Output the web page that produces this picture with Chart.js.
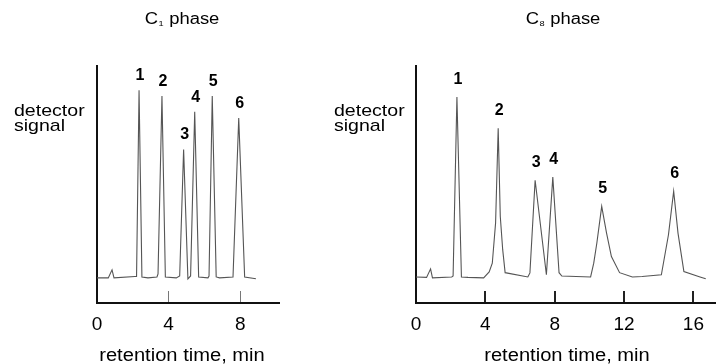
<!DOCTYPE html>
<html>
<head>
<meta charset="utf-8">
<script src="https://cdn.jsdelivr.net/npm/chart.js@4.4.1/dist/chart.umd.min.js"></script>
<style>
  body { margin: 0; background: #fff; }
  #wrap { position: relative; width: 726px; height: 364px; }
  canvas { position: absolute; top: 0; }
</style>
</head>
<body>
<div id="wrap">
  <canvas id="c1Chart" width="320" height="364" style="left:0"></canvas>
  <canvas id="c8Chart" width="406" height="364" style="left:320px"></canvas>
</div>
<script>
// chromatogram traces (time in min, signal in arbitrary units 0-100)
const c1Time   = [0, 0.63, 0.84, 0.95, 2.12, 2.21, 2.35, 2.51, 2.85, 3.35, 3.41, 3.63, 3.82, 4.43, 4.62, 4.84, 5.08, 5.23, 5.46, 5.68, 6.2, 6.26, 6.44, 6.66, 6.85, 7.6, 7.92, 8.25, 8.88];
const c1Signal = [10.6, 10.6, 14.0, 10.6, 11.2, 11.2, 89.8, 11.0, 10.6, 11.0, 12.3, 87.3, 11.0, 10.6, 11.4, 64.8, 10.2, 11.4, 80.7, 11.0, 10.6, 11.4, 87.3, 11.0, 10.6, 11.0, 78.0, 11.0, 10.2];

const c8Time   = [0, 0.61, 0.84, 0.95, 2.06, 2.14, 2.36, 2.62, 3.0, 3.9, 4.22, 4.4, 4.59, 4.74, 4.86, 5.0, 5.14, 6.45, 6.57, 6.87, 7.52, 7.89, 8.25, 8.41, 10.07, 10.25, 10.43, 10.71, 10.99, 11.27, 11.74, 12.48, 13.04, 14.15, 14.56, 14.86, 15.11, 15.45, 16.38, 16.71];
const c8Signal = [11.0, 10.8, 14.4, 10.6, 11.0, 11.4, 86.9, 11.0, 10.8, 10.6, 13.1, 16.8, 33.8, 73.7, 36.6, 22.5, 12.8, 11.0, 12.7, 51.8, 11.9, 53.1, 12.8, 11.4, 11.0, 16.8, 25.3, 40.8, 29.5, 19.6, 12.8, 11.0, 11.2, 11.9, 28.8, 47.2, 29.5, 13.3, 11.0, 10.2];

const peakNames    = ['1', '2', '3', '4', '5', '6'];
const c1PeakTimes  = [2.35, 3.63, 4.84, 5.46, 6.44, 7.92];
const c8PeakTimes  = [2.36, 4.74, 6.87, 7.89, 10.71, 14.86];

const c1Ticks = [0, 4, 8];
const c8Ticks = [0, 4, 8, 12, 16];

const FONT = '"Liberation Sans", Arial, Helvetica, sans-serif';
const STRETCH = 1.15; // the scanned lettering is a bit wide

function wideText(ctx, str, x, y, size, weight) {
  ctx.save();
  ctx.font = weight + ' ' + size + 'px ' + FONT;
  ctx.translate(x, y);
  ctx.scale(STRETCH, 1);
  ctx.textAlign = 'left';
  ctx.textBaseline = 'alphabetic';
  ctx.fillText(str, 0, 0);
  ctx.restore();
}

function wideWidth(ctx, str, size, weight) {
  ctx.font = weight + ' ' + size + 'px ' + FONT;
  return ctx.measureText(str).width * STRETCH;
}

// titles, axis captions and peak numbers
const panelText = {
  id: 'panelText',
  afterDraw(chart, args, o) {
    const ctx = chart.ctx;
    ctx.save();
    ctx.fillStyle = '#000';

    // title "C<sub> phase"
    const wC = wideWidth(ctx, 'C', 16, 'normal');
    const wS = wideWidth(ctx, o.sub, 8, 'normal');
    const wP = wideWidth(ctx, ' phase', 16, 'normal');
    let x0 = o.titleX - (wC + wS + 1 + wP) / 2;
    wideText(ctx, 'C', x0, 24, 16, 'normal');
    wideText(ctx, o.sub, x0 + wC + 0.5, 26, 8, 'normal');
    wideText(ctx, ' phase', x0 + wC + wS + 1, 24, 16, 'normal');

    // y caption, horizontal
    wideText(ctx, 'detector', o.yLabelX, 116, 17, 'normal');
    wideText(ctx, 'signal', o.yLabelX, 131, 17, 'normal');

    // x caption
    const cap = 'retention time, min';
    const wX = wideWidth(ctx, cap, 17.5, 'normal');
    wideText(ctx, cap, o.xTitleX - wX / 2, 361, 17.5, 'normal');

    // peak numbers above each apex
    const xs = chart.scales.x, ys = chart.scales.y;
    const ds = chart.data.datasets[0].data;
    ctx.font = 'bold 16px ' + FONT;
    ctx.textAlign = 'center';
    ctx.textBaseline = 'alphabetic';
    o.peaks.forEach((t, i) => {
      const p = ds.find(d => d.x === t);
      const px = xs.getPixelForValue(p.x);
      const py = ys.getPixelForValue(p.y);
      ctx.fillText(peakNames[i], px + 1, py - o.lift);
    });
    ctx.restore();
  }
};

function makeChart(id, times, signal, ticks, xMax, pad, tickStyle, text) {
  return new Chart(document.getElementById(id).getContext('2d'), {
    type: 'line',
    data: {
      datasets: [{
        data: times.map((t, i) => ({ x: t, y: signal[i] })),
        borderColor: '#555',
        borderWidth: 1.1,
        pointRadius: 0,
        tension: 0,
        fill: false
      }]
    },
    options: {
      responsive: false,
      animation: false,
      layout: { padding: pad },
      plugins: {
        legend: { display: false },
        tooltip: { enabled: false },
        panelText: text
      },
      scales: {
        x: {
          type: 'linear',
          min: 0,
          max: xMax,
          afterBuildTicks: s => { s.ticks = ticks.map(v => ({ value: v })); },
          afterFit: s => { s.height = 61; },
          grid: {
            drawOnChartArea: false,
            drawTicks: true,
            tickLength: -12,
            color: tickStyle.color,
            lineWidth: tickStyle.width
          },
          border: { display: true, color: '#111', width: 2 },
          ticks: {
            padding: 22,
            color: '#000',
            font: { family: FONT, size: 19 },
            maxRotation: 0
          }
        },
        y: {
          min: 0,
          max: 100,
          afterFit: s => { s.width = 0; },
          grid: { display: false },
          border: { display: true, color: '#111', width: 2 },
          ticks: { display: false }
        }
      }
    },
    plugins: [panelText]
  });
}

makeChart('c1Chart', c1Time, c1Signal, c1Ticks, 10.17,
  { left: 97, right: 41, top: 66, bottom: 0 },
  { color: '#777', width: 1 },
  { sub: '1', titleX: 182, yLabelX: 14, xTitleX: 182, peaks: c1PeakTimes, lift: 10 });

makeChart('c8Chart', c8Time, c8Signal, c8Ticks, 17.27,
  { left: 96, right: 0, top: 66, bottom: 0 },
  { color: '#222', width: 2 },
  { sub: '8', titleX: 243, yLabelX: 14, xTitleX: 247, peaks: c8PeakTimes, lift: 13 });
</script>
</body>
</html>
